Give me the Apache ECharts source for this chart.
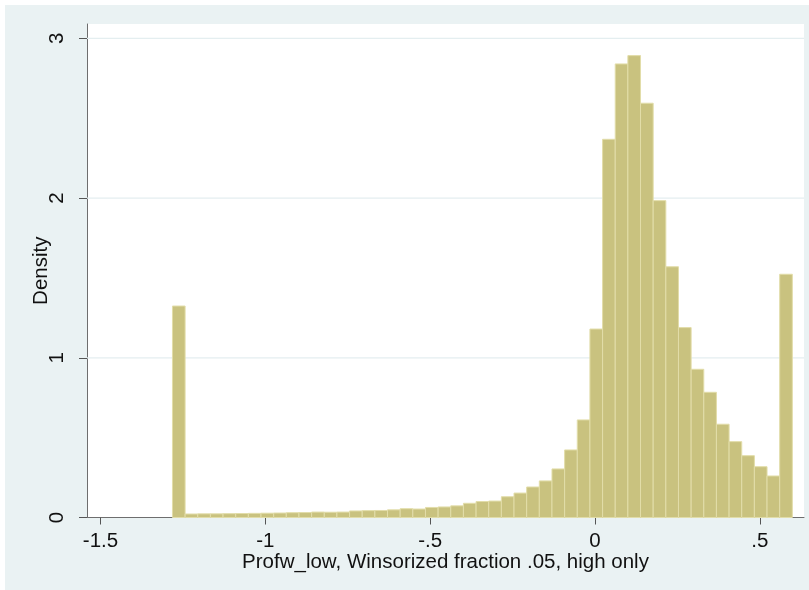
<!DOCTYPE html>
<html>
<head>
<meta charset="utf-8">
<script src="https://cdn.jsdelivr.net/npm/echarts@6/dist/echarts.min.js"></script>
<style>
html,body{margin:0;padding:0;background:#fff;}
#chart{width:809px;height:590px;}
</style>
</head>
<body>
<div id="chart"></div>
<script>
// Histogram of Profw_low (density), 49 equal-width bins
const binStart = -1.2818;
const binWidth = 0.03837;
const densities = [
  1.324,
  0.022, 0.023, 0.023, 0.024, 0.025, 0.026, 0.027, 0.028, 0.030, 0.031,
  0.034, 0.033, 0.034, 0.041, 0.043, 0.044, 0.048, 0.055, 0.053, 0.063,
  0.066, 0.073, 0.089, 0.100, 0.103, 0.130, 0.153, 0.191, 0.229, 0.304, 0.423, 0.611,
  1.180, 2.368, 2.840, 2.892, 2.594, 1.984, 1.570, 1.189, 0.928, 0.784, 0.584, 0.475, 0.387, 0.318, 0.260,
  1.523
];
const xTicks = [-1.5, -1, -0.5, 0, 0.5];
const yTicks = [0, 1, 2, 3];
const xTitle = 'Profw_low, Winsorized fraction .05, high only';
const yTitle = 'Density';

const binData = densities.map((d, i) => [binStart + i * binWidth, binStart + (i + 1) * binWidth, d]);

const fmtX = v => String(v).replace(/^0\./, '.').replace(/^-0\./, '-.');

const FONT = 'Liberation Sans, Arial, sans-serif';
const FS = 20.5;
const chart = echarts.init(document.getElementById('chart'), null, {renderer: 'canvas'});
chart.setOption({
  backgroundColor: '#ffffff',
  animation: false,
  graphic: [{
    type: 'rect', left: 5, top: 5, z: -10,
    shape: {width: 804, height: 585},
    style: {fill: '#eaf2f3'}
  }],
  grid: {
    left: 87, top: 24, right: 5, bottom: 72.5,
    show: true, backgroundColor: '#ffffff', borderWidth: 0
  },
  xAxis: {
    type: 'value', min: -1.541, max: 0.6337,
    name: xTitle, nameLocation: 'middle', nameGap: 34, nameMoveOverlap: false,
    nameTextStyle: {fontFamily: FONT, fontSize: FS, color: '#111'},
    axisLine: {show: true, onZero: false, lineStyle: {color: '#6e6e6e', width: 1}},
    axisTick: {show: true, length: 7, lineStyle: {color: '#555'}, customValues: xTicks},
    axisLabel: {fontFamily: FONT, fontSize: FS, color: '#111', margin: 13, customValues: xTicks, formatter: fmtX},
    splitLine: {show: false}
  },
  yAxis: {
    type: 'value', min: 0, max: 3.09,
    name: yTitle, nameLocation: 'middle', nameGap: 35, nameRotate: 90, nameMoveOverlap: false,
    nameTextStyle: {fontFamily: FONT, fontSize: FS, color: '#111'},
    axisLine: {show: true, onZero: false, lineStyle: {color: '#6e6e6e', width: 1}},
    axisTick: {show: true, length: 8, lineStyle: {color: '#555'}, customValues: yTicks},
    axisLabel: {fontFamily: FONT, fontSize: FS, color: '#111', margin: 19, rotate: 90, customValues: yTicks},
    splitLine: {show: false}
  },
  series: [{
    type: 'custom',
    name: 'gridlines',
    silent: true,
    z: 1,
    data: yTicks.filter(v => v > 0).map(v => [v]),
    encode: {y: 0},
    renderItem: (params, api) => {
      const y = api.coord([0, api.value(0)])[1];
      const cs = params.coordSys;
      return {type: 'line', shape: {x1: cs.x, y1: y, x2: cs.x + cs.width, y2: y},
        style: {stroke: '#e4eef0', lineWidth: 1.2}};
    }
  }, {
    type: 'custom',
    name: 'density',
    z: 2,
    data: binData,
    encode: {x: [0, 1], y: 2},
    renderItem: (params, api) => {
      const p0 = api.coord([api.value(0), api.value(2)]);
      const p1 = api.coord([api.value(1), 0]);
      return {type: 'rect',
        shape: {x: p0[0], y: p0[1], width: p1[0] - p0[0], height: p1[1] - p0[1]},
        style: {fill: '#c9c27f', stroke: '#e2dda9', lineWidth: 1}};
    }
  }]
});
</script>
</body>
</html>
